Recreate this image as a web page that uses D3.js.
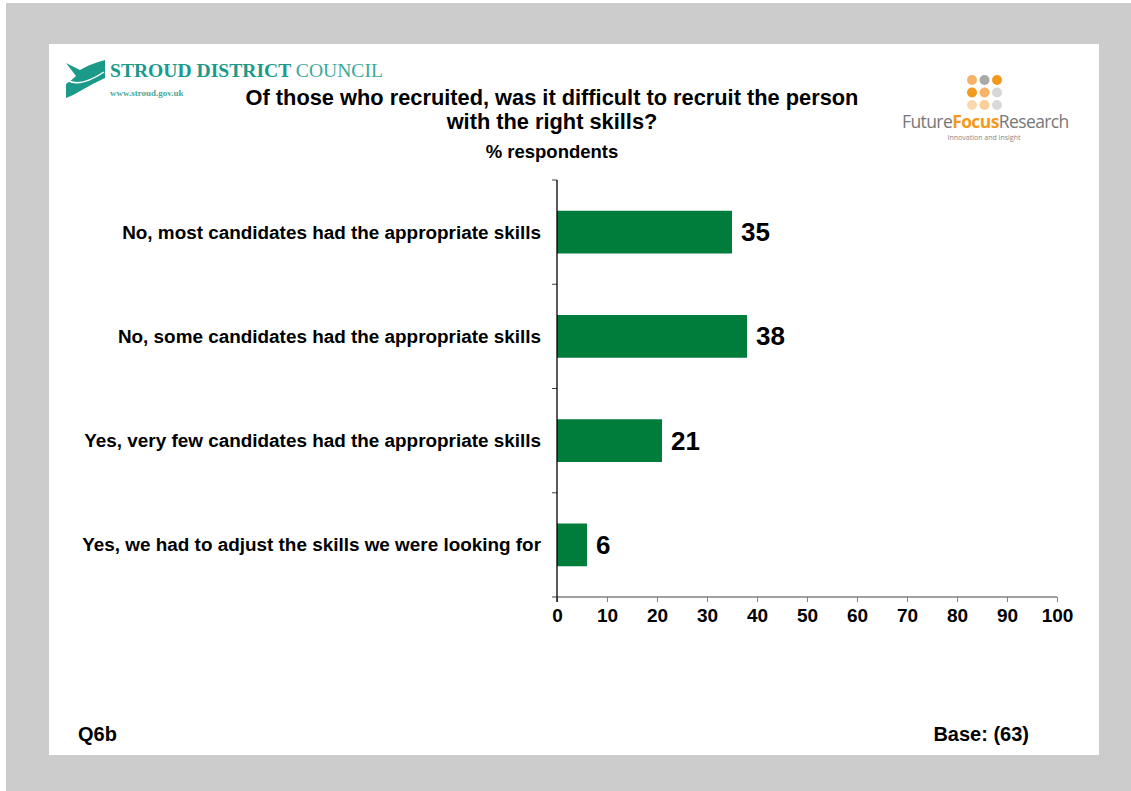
<!DOCTYPE html>
<html>
<head>
<meta charset="utf-8">
<script src="https://cdn.jsdelivr.net/npm/d3@7"></script>
<style>
  html, body { margin: 0; padding: 0; background: #ffffff; }
  svg { display: block; }
</style>
</head>
<body>
<svg id="chart" width="1131" height="791" font-family="'Liberation Sans', Arial, sans-serif"></svg>
<script>
// Survey answers, top to bottom, with % of respondents
const categories = [
  "No, most candidates had the appropriate skills",
  "No, some candidates had the appropriate skills",
  "Yes, very few candidates had the appropriate skills",
  "Yes, we had to adjust the skills we were looking for"
];
const values = [35, 38, 21, 6];
const xTicks = [0, 10, 20, 30, 40, 50, 60, 70, 80, 90, 100];
const titleLines = [
  "Of those who recruited, was it difficult to recruit the person",
  "with the right skills?"
];
const subtitle = "% respondents";
const questionId = "Q6b";
const baseNote = "Base: (63)";

const svg = d3.select("#chart");

// Frame: grey slide surround with white page
svg.append("rect").attr("x", 6).attr("y", 3).attr("width", 1125).attr("height", 788).attr("fill", "#cccccc");
svg.append("rect").attr("x", 49).attr("y", 44).attr("width", 1050).attr("height", 711).attr("fill", "#ffffff");

// Scales
const x = d3.scaleLinear().domain([0, 100]).range([557, 1057]);
const y = d3.scaleBand().domain(categories).range([180, 597])
  .paddingInner(0.59).paddingOuter(0.295);

const data = categories.map((c, i) => ({ cat: c, v: values[i] }));

// Bars
svg.append("g").selectAll("rect").data(data).join("rect")
  .attr("x", x(0))
  .attr("y", d => y(d.cat))
  .attr("width", d => x(d.v) - x(0))
  .attr("height", y.bandwidth())
  .attr("fill", "#007d3a");

// Value labels
svg.append("g").selectAll("text").data(data).join("text")
  .attr("x", d => x(d.v) + 9)
  .attr("y", d => y(d.cat) + y.bandwidth() / 2 + 9)
  .attr("font-size", 26).attr("font-weight", "bold").attr("fill", "#000")
  .text(d => d.v);

// Category labels
svg.append("g").selectAll("text").data(data).join("text")
  .attr("x", 541)
  .attr("y", d => y(d.cat) + y.bandwidth() / 2 + 6.5)
  .attr("text-anchor", "end")
  .attr("font-size", 18.9).attr("font-weight", "bold").attr("fill", "#000")
  .text(d => d.cat);

// X axis
const xAxis = svg.append("g")
  .attr("transform", `translate(0,597)`)
  .call(d3.axisBottom(x).tickValues(xTicks).tickSize(5).tickSizeOuter(0).tickPadding(7));
xAxis.select(".domain").remove();
xAxis.selectAll(".tick line").attr("stroke", "#808080");
xAxis.selectAll(".tick text")
  .attr("font-family", "'Liberation Sans', Arial, sans-serif")
  .attr("font-size", 19).attr("font-weight", "bold").attr("fill", "#000");
svg.append("line")
  .attr("x1", x(0) - 5).attr("x2", x(100))
  .attr("y1", 597).attr("y2", 597)
  .attr("stroke", "#808080").attr("stroke-width", 1.3);

// Y axis: line with ticks at category boundaries
const half = (y.step() - y.bandwidth()) / 2;
const bounds = categories.map(c => y(c) - half).concat([y.range()[1]]);
svg.append("g").selectAll("line").data(bounds.slice(0, -1)).join("line")
  .attr("x1", x(0) - 5).attr("x2", x(0))
  .attr("y1", d => d).attr("y2", d => d)
  .attr("stroke", "#404040").attr("stroke-width", 1);
svg.append("line")
  .attr("x1", x(0)).attr("x2", x(0))
  .attr("y1", bounds[0]).attr("y2", 597 + 5)
  .attr("stroke", "#000").attr("stroke-width", 1.3);

// Titles
const tg = svg.append("g").attr("font-weight", "bold").attr("fill", "#000").attr("text-anchor", "middle");
tg.selectAll("text.t").data(titleLines).join("text").attr("class", "t")
  .attr("x", 552).attr("y", (d, i) => 105 + i * 24)
  .attr("font-size", 21.8).text(d => d);
tg.append("text").attr("x", 552).attr("y", 158).attr("font-size", 18.5).text(subtitle);

// Footer notes
svg.append("text").attr("x", 78).attr("y", 741).attr("font-size", 20).attr("font-weight", "bold").text(questionId);
svg.append("text").attr("x", 1029).attr("y", 741).attr("text-anchor", "end")
  .attr("font-size", 20).attr("font-weight", "bold").text(baseNote);

// Stroud District Council logo
const teal = "#1b9a8a";
const sl = svg.append("g");
sl.append("path")
  .attr("d", "M66,63 L80,70 Q90,64 105,60 L105,78 Q92,84 82,90 Q74,95 66,98 L66,84 Q72,80 76,76 Z")
  .attr("fill", teal);
sl.append("path")
  .attr("d", "M67,80 Q80,88 104,72")
  .attr("fill", "none").attr("stroke", "#ffffff").attr("stroke-width", 1.5);
const st = sl.append("text").attr("x", 110).attr("y", 77)
  .attr("font-family", "'Liberation Serif', 'DejaVu Serif', serif").attr("font-size", 19.6).attr("fill", teal);
st.append("tspan").attr("font-weight", "bold").text("STROUD DISTRICT ");
st.append("tspan").attr("fill", "#3aa89a").text("COUNCIL");
sl.append("text").attr("x", 110).attr("y", 96)
  .attr("font-family", "'Liberation Serif', 'DejaVu Serif', serif").attr("font-size", 9)
  .attr("font-weight", "bold").attr("fill", "#4aa89a").text("www.stroud.gov.uk");

// Future Focus Research logo
const dotColors = [
  ["#f7b267", "#a9a9a9", "#f39a1e"],
  ["#f39a1e", "#f7b267", "#d6d6d6"],
  ["#fbd9b0", "#fbcf9a", "#d9d9d9"]
];
const fl = svg.append("g");
dotColors.forEach((row, r) => row.forEach((c, k) => {
  fl.append("circle").attr("cx", 972 + k * 12.5).attr("cy", 80 + r * 12.5).attr("r", 5).attr("fill", c);
}));
const ft = fl.append("text").attr("x", 902).attr("y", 128)
  .attr("font-family", "'Open Sans', 'Noto Sans', sans-serif").attr("font-size", 17.5).attr("fill", "#777777")
  .attr("letter-spacing", -0.6);
ft.append("tspan").text("Future");
ft.append("tspan").attr("fill", "#f39a1e").attr("font-weight", "bold").text("Focus");
ft.append("tspan").text("Research");
fl.append("text").attr("x", 984).attr("y", 140).attr("text-anchor", "middle")
  .attr("font-family", "'Open Sans', 'Noto Sans', sans-serif").attr("font-size", 7).attr("fill", "#888888")
  .text("Innovation and Insight");
</script>
</body>
</html>
